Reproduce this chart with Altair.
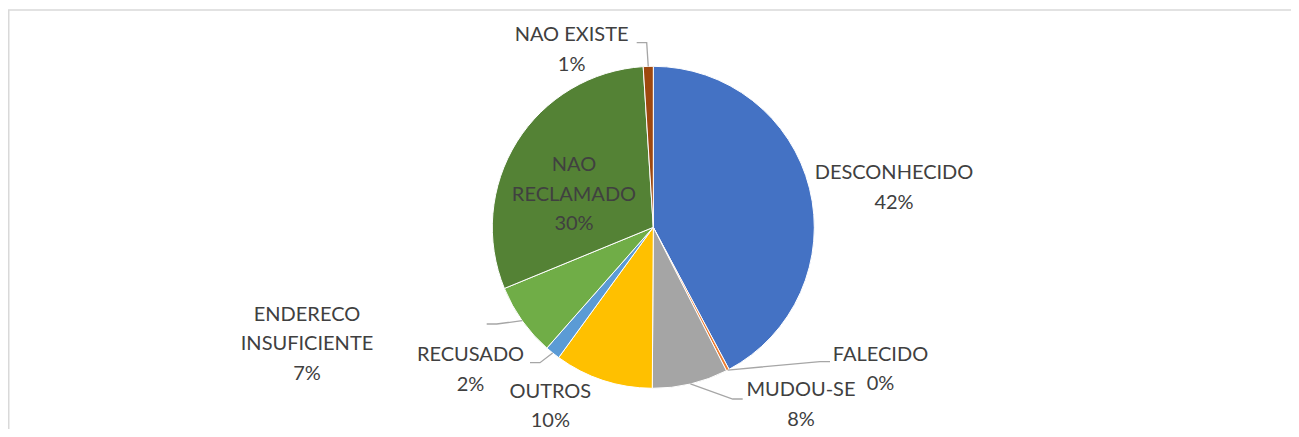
import altair as alt
import numpy as np
import pandas as pd

# ---- data ----
CATEGORIES = ["DESCONHECIDO", "FALECIDO", "MUDOU-SE", "OUTROS", "RECUSADO",
              "ENDERECO INSUFICIENTE", "NAO RECLAMADO", "NAO EXISTE"]
VALUES = [42.2, 0.3, 7.6, 9.9, 1.5, 7.3, 30.2, 1.0]
COLORS = ["#4472C4", "#ED7D31", "#A5A5A5", "#FFC000", "#5B9BD5",
          "#70AD47", "#548235", "#9E480E"]
WRAP = [False, False, False, False, False, True, True, False]

# ---- layout (pixel offsets of each label's first line from pie centre, y up) ----
LABEL_X = [240.7, 227.2, 147.7, -103.0, -182.8, -346.3, -79.3, -81.7]
LABEL_Y = [54.3, -127.5, -163.0, -164.2, -127.9, -87.5, 62.1, 192.0]
LEADER_X = [None, 176.7, 89.4, None, -123.3, -166.6, None, -16.6]
LEADER_Y = [None, -134.4, -171.7, None, -135.4, -96.7, None, 184.6]

W, H = 1283, 421
CX, CY = 645.3, 219.3
R = 161
FONT = "Lato"
TEXT_COLOR = "#404040"

xs = alt.Scale(domain=[-CX, W - CX], nice=False, zero=False)
ys = alt.Scale(domain=[-(H - CY), CY], nice=False, zero=False)

vals = np.array(VALUES, dtype=float)
total = vals.sum()
cum = np.cumsum(vals)
mid = (cum - vals / 2) / total * 2 * np.pi

labels = []
for name, v, w in zip(CATEGORIES, VALUES, WRAP):
    nm = name.replace(" ", "\n") if w else name
    labels.append(f"{nm}\n{int(v + 0.5)}%")

pie_df = pd.DataFrame({
    "category": CATEGORIES,
    "value": VALUES,
    "idx": list(range(len(CATEGORIES))),
    "cx": [0.0] * len(CATEGORIES),
    "cy": [0.0] * len(CATEGORIES),
})

label_df = pd.DataFrame({"label": labels, "lx": LABEL_X, "ly": LABEL_Y})

rows = []
for i, (ex, ey) in enumerate(zip(LEADER_X, LEADER_Y)):
    if ex is None:
        continue
    sx, sy = R * np.sin(mid[i]), R * np.cos(mid[i])
    d = 10 if ex < sx else -10
    for k, (px, py) in enumerate([(sx, sy), (ex + d, ey), (ex, ey)]):
        rows.append({"g": CATEGORIES[i], "o": k, "x": px, "y": py})
lead_df = pd.DataFrame(rows)

pie = alt.Chart(pie_df).mark_arc(outerRadius=R, stroke="white", strokeWidth=1).encode(
    theta=alt.Theta("value:Q", stack=True),
    order=alt.Order("idx:Q"),
    color=alt.Color("category:N", scale=alt.Scale(domain=CATEGORIES, range=COLORS), legend=None),
    x=alt.X("cx:Q", scale=xs, axis=None),
    y=alt.Y("cy:Q", scale=ys, axis=None),
)

leaders = alt.Chart(lead_df).mark_line(color="#A6A6A6", strokeWidth=1.3).encode(
    x=alt.X("x:Q", scale=xs, axis=None),
    y=alt.Y("y:Q", scale=ys, axis=None),
    detail="g:N",
    order="o:Q",
)

text = alt.Chart(label_df).mark_text(
    lineBreak="\n", align="center", baseline="middle", font=FONT,
    fontSize=20, color=TEXT_COLOR, lineHeight=29.5,
).encode(
    x=alt.X("lx:Q", scale=xs, axis=None),
    y=alt.Y("ly:Q", scale=ys, axis=None),
    text="label:N",
)

one = pd.DataFrame({"a": [0]})
top_rule = alt.Chart(one).mark_rule(color="#D9D9D9", strokeWidth=1.5).encode(
    x=alt.value(0), x2=alt.value(W), y=alt.value(2))
left_rule = alt.Chart(one).mark_rule(color="#D9D9D9", strokeWidth=1.5).encode(
    x=alt.value(0.75), y=alt.value(2), y2=alt.value(H))

chart = alt.layer(top_rule, left_rule, pie, leaders, text).properties(
    width=W, height=H, padding=0, autosize="none", background="white"
).configure_view(stroke=None)

chart.save("out.html", embed_options={"renderer": "svg", "actions": False})
